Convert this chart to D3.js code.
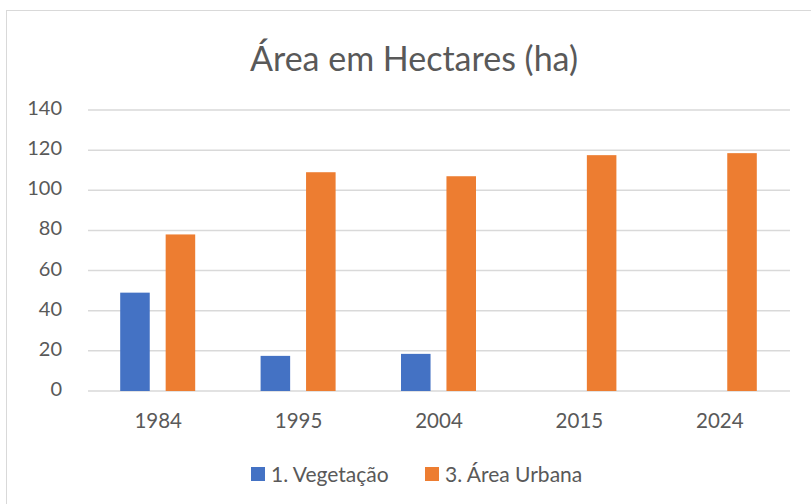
<!DOCTYPE html>
<html>
<head>
<meta charset="utf-8">
<script src="https://cdn.jsdelivr.net/npm/d3@7"></script>
<style>
  body { margin: 0; background: #fff; }
  text { font-family: Lato, "Open Sans", sans-serif; fill: #595959; }
</style>
</head>
<body>
<svg id="chart" width="811" height="504"></svg>
<script>
var years = ['1984', '1995', '2004', '2015', '2024']
var seriesNames = ['1. Vegetação', '3. Área Urbana']
var vegetacao = [49, 17.5, 18.5, 0, 0]
var areaUrbana = [78, 109, 107, 117.5, 118.5]
var yTicks = [0, 20, 40, 60, 80, 100, 120, 140]
var colors = ['#4472C4', '#ED7D31']

var svg = d3.select('#chart')

// chart frame
svg.append('rect')
    .attr('x', 6.5).attr('y', 10.5)
    .attr('width', 820).attr('height', 520)
    .attr('fill', '#fff')
    .attr('stroke', '#d9d9d9')

svg.append('text')
    .attr('x', 414).attr('y', 71)
    .attr('text-anchor', 'middle')
    .style('font-size', '34px')
    .text('Área em Hectares (ha)')

var x = d3.scaleBand()
            .domain(years)
            .range([88, 790])

var inner = d3.scaleBand()
            .domain(seriesNames)
            .range([-38, 37])
            .paddingInner(0.35)

var y = d3.scaleLinear()
            .domain([0, 140])
            .range([391, 110])

// gridlines
svg.append('g')
    .selectAll('line')
    .data(yTicks)
    .join('line')
    .attr('x1', 88).attr('x2', 790)
    .attr('y1', d => y(d)).attr('y2', d => y(d))
    .attr('stroke', '#d9d9d9')
    .attr('stroke-width', 1.5)

svg.append('g')
    .selectAll('text')
    .data(yTicks)
    .join('text')
    .attr('x', 62)
    .attr('y', d => y(d))
    .attr('text-anchor', 'end')
    .attr('dominant-baseline', 'middle')
    .style('font-size', '20px')
    .text(d => d)

var rows = years.map((yr, i) => ({ year: yr, values: [vegetacao[i], areaUrbana[i]] }))

var groups = svg.append('g')
    .selectAll('g')
    .data(rows)
    .join('g')
    .attr('transform', d => 'translate(' + (x(d.year) + x.bandwidth() / 2) + ',0)')

groups.selectAll('rect')
    .data(d => d.values.map((v, j) => ({ name: seriesNames[j], value: v, color: colors[j] })))
    .join('rect')
    .attr('x', d => inner(d.name))
    .attr('width', inner.bandwidth())
    .attr('y', d => y(d.value))
    .attr('height', d => y(0) - y(d.value))
    .attr('fill', d => d.color)

// x labels
svg.append('g')
    .selectAll('text')
    .data(years)
    .join('text')
    .attr('x', d => x(d) + x.bandwidth() / 2)
    .attr('y', 428)
    .attr('text-anchor', 'middle')
    .style('font-size', '20.5px')
    .text(d => d)

// legend
var legendX = [251, 425]
var legend = svg.append('g')
    .selectAll('g')
    .data(seriesNames)
    .join('g')
    .attr('transform', (d, i) => 'translate(' + legendX[i] + ',467)')

legend.append('rect')
    .attr('width', 14).attr('height', 14)
    .attr('fill', (d, i) => colors[i])

legend.append('text')
    .attr('x', 20).attr('y', 15)
    .style('font-size', '21px')
    .text(d => d)
</script>
</body>
</html>
